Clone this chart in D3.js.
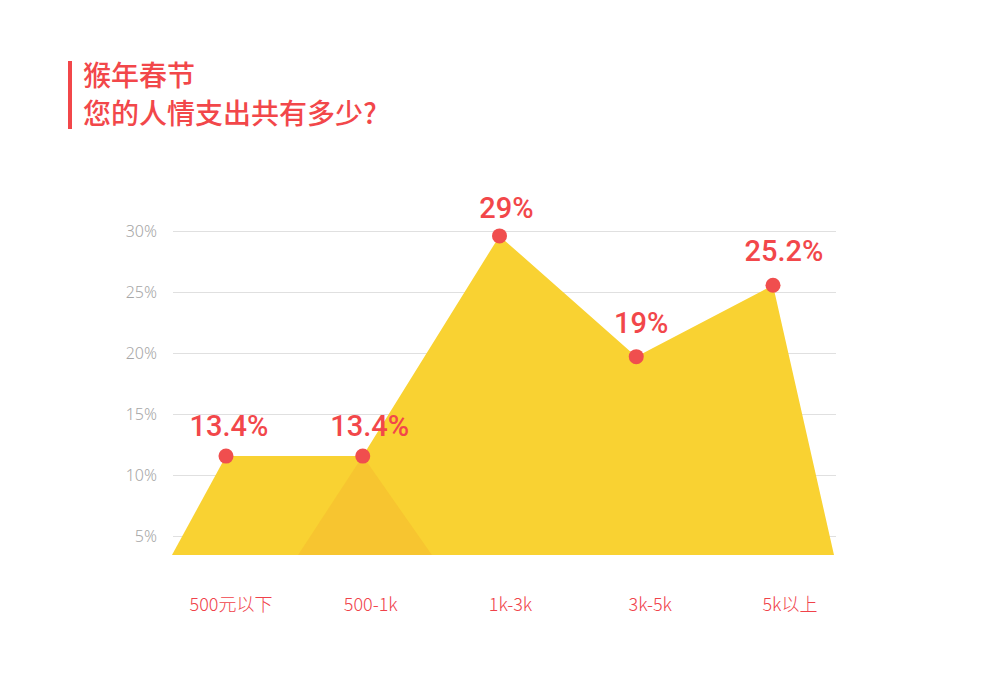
<!DOCTYPE html>
<html>
<head>
<meta charset="utf-8">
<style>
  body { margin: 0; background: #fff; }
  #chart { display: block; }
  .grid line { stroke: #e0e0e0; }
  .grid text { fill: #a6a6a6; font-family: "Noto Sans", Roboto, sans-serif; font-size: 16px; font-weight: 300; }
</style>
</head>
<body>
<svg id="chart" width="1000" height="700"></svg>
<script src="https://cdn.jsdelivr.net/npm/d3@7"></script>
<script>
  // values as placed on the chart, and the labels printed above each point
  let categories = ["500元以下", "500-1k", "1k-3k", "3k-5k", "5k以上"]
  let values = [11.55, 11.55, 29.6, 19.7, 25.55]
  let valueLabels = ["13.4%", "13.4%", "29%", "19%", "25.2%"]
  let yTicks = [5, 10, 15, 20, 25, 30]
  // the two yellow shapes: which points they pass through, and where their feet land (in category units)
  let shapeA = { idx: [0, 1], left: -0.395, right: 1.506 }
  let shapeB = { idx: [1, 2, 3, 4], left: 0.527, right: 4.446 }

  let svg = d3.select("#chart")
  let red = "#f2474a"
  let yellow = "#f9d232"
  let overlapYellow = "#f7c530"

  // title
  svg.append("rect").attr("x", 68).attr("y", 61).attr("width", 4).attr("height", 68).attr("fill", red)
  let title = svg.append("text")
    .attr("font-family", "'Noto Sans CJK SC', sans-serif")
    .attr("font-size", 28).attr("font-weight", 500).attr("fill", red)
  title.append("tspan").attr("x", 83).attr("y", 86).text("猴年春节")
  title.append("tspan").attr("x", 83).attr("y", 124).text("您的人情支出共有多少?")

  let xScale = d3.scaleLinear().domain([0, 4]).range([226, 773])
  let labelScale = d3.scalePoint().domain(categories).range([231, 790])
  let yScale = d3.scaleLinear().domain([5, 30]).range([536, 231])
  let base = yScale(3.45)

  // grid + y labels
  let yAxis = d3.axisLeft(yScale)
    .tickValues(yTicks)
    .tickFormat(d => d + "%")
    .tickSize(-(836 - 173))
    .tickPadding(16)
  svg.append("g").attr("class", "grid")
    .attr("transform", "translate(173,0)")
    .call(yAxis)
    .call(g => g.select(".domain").remove())

  // areas
  let line = d3.line().x(d => d[0]).y(d => d[1])
  function shapePath(s) {
    let pts = [[xScale(s.left), base]]
    s.idx.forEach(i => pts.push([xScale(i), yScale(values[i])]))
    pts.push([xScale(s.right), base])
    return line(pts) + "Z"
  }
  svg.append("defs").append("clipPath").attr("id", "clipB")
    .append("path").attr("d", shapePath(shapeB))

  let areas = svg.append("g")
  areas.selectAll("path.shape")
    .data([shapeA, shapeB])
    .join("path")
    .attr("class", "shape")
    .attr("d", d => shapePath(d))
    .attr("fill", yellow)
  // where the two shapes overlap it looks a little darker
  areas.append("path")
    .attr("d", shapePath(shapeA))
    .attr("clip-path", "url(#clipB)")
    .attr("fill", overlapYellow)

  // points
  svg.append("g").selectAll("circle")
    .data(values)
    .join("circle")
    .attr("cx", (d, i) => xScale(i))
    .attr("cy", d => yScale(d))
    .attr("r", 7.5)
    .attr("fill", "#f04e4e")

  // value labels
  let labelDx = [3, 7, 7, 5, 11]
  let labelDy = [-20, -20, -18, -24, -24]
  svg.append("g").selectAll("text")
    .data(valueLabels)
    .join("text")
    .attr("x", (d, i) => xScale(i) + labelDx[i])
    .attr("y", (d, i) => yScale(values[i]) + labelDy[i])
    .attr("text-anchor", "middle")
    .attr("font-family", "Roboto, 'Noto Sans', sans-serif")
    .attr("font-size", 29).attr("font-weight", 500)
    .attr("fill", red)
    .text(d => d)

  // category labels
  svg.append("g").selectAll("text")
    .data(categories)
    .join("text")
    .attr("x", d => labelScale(d))
    .attr("y", 611)
    .attr("text-anchor", "middle")
    .attr("font-family", "'Noto Sans CJK SC', sans-serif")
    .attr("font-size", 18).attr("font-weight", 300)
    .attr("fill", "#f0424a")
    .text(d => d)
</script>
</body>
</html>
